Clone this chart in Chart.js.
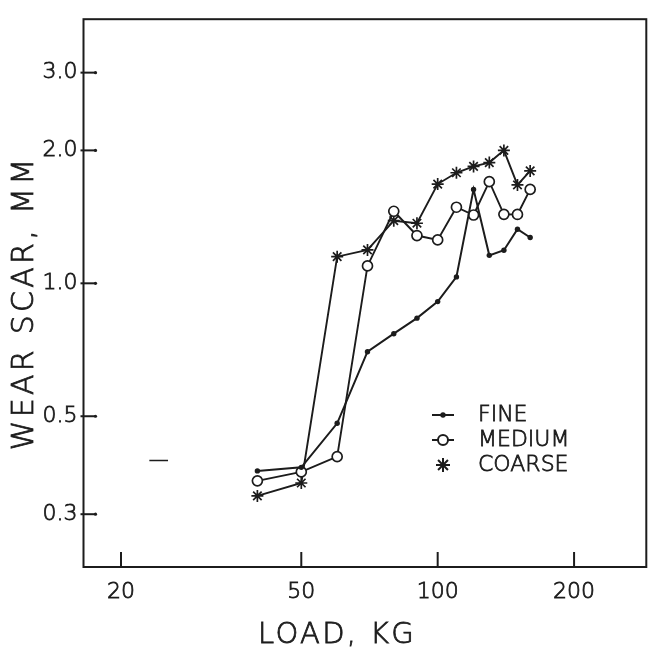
<!DOCTYPE html>
<html><head><meta charset="utf-8">
<script src="https://cdn.jsdelivr.net/npm/chart.js@4.4.1/dist/chart.umd.min.js"></script>
<style>html,body{margin:0;padding:0;background:#fff;} canvas{display:block;}</style>
</head><body>
<canvas id="c" width="654" height="649"></canvas>
<script>
// ---- data (load in kg, wear scar in mm) ----
const loads  = [40, 50, 60, 70, 80, 90, 100, 110, 120, 130, 140, 150, 160];
const fine   = [0.376, 0.383, 0.482, 0.700, 0.769, 0.834, 0.909, 1.034, 1.632, 1.157, 1.188, 1.326, 1.270];
const medium = [0.357, 0.374, 0.405, 1.095, 1.456, 1.283, 1.254, 1.487, 1.428, 1.699, 1.433, 1.432, 1.632];
const coarse = [0.330, 0.353, 1.149, 1.190, 1.386, 1.368, 1.678, 1.780, 1.840, 1.877, 2.000, 1.670, 1.797];
const strayLoads = [23.1, 25.4];
const strayScar  = [0.397, 0.397];
const seriesNames = ['FINE', 'MEDIUM', 'COARSE'];
const xTicks = [20, 50, 100, 200];
const xTickLabels = ['20', '50', '100', '200'];
const yTicks = [0.3, 0.5, 1.0, 2.0, 3.0];
const yTickLabels = ['0.3', '0.5', '1.0', '2.0', '3.0'];
const xTitle = 'LOAD, KG';
const yTitle = 'WEAR SCAR, MM';

const INK = '#1c1c1c';
const FONT = "'DejaVu Sans', sans-serif";
const WEIGHT = '200';
const TEXT_STROKE = 0.8;

const toPts = (xs, ys) => xs.map((v, i) => ({x: v, y: ys[i]}));

function inkText(ctx, s, x, y) {
  ctx.fillText(s, x, y);
  ctx.lineWidth = TEXT_STROKE;
  ctx.strokeText(s, x, y);
}

const framePlugin = {
  id: 'framePlugin',
  afterDraw(chart) {
    const {ctx, chartArea: a, scales: {x, y}} = chart;
    ctx.save();
    ctx.strokeStyle = INK; ctx.fillStyle = INK; ctx.lineWidth = 2;
    ctx.strokeRect(a.left, a.top, a.right - a.left, a.bottom - a.top);
    xTicks.forEach(v => {
      const px = x.getPixelForValue(v);
      ctx.beginPath(); ctx.moveTo(px, a.bottom); ctx.lineTo(px, a.bottom - 15); ctx.stroke();
    });
    yTicks.forEach(v => {
      const py = y.getPixelForValue(v);
      ctx.beginPath(); ctx.moveTo(a.left - 3, py); ctx.lineTo(a.left + 12, py); ctx.stroke();
      ctx.beginPath(); ctx.arc(a.left + 12, py, 1.6, 0, Math.PI * 2); ctx.fill();
    });

    // legend
    const lx = 443, rows = [415, 440, 465], tx = 478;
    const metas = [0, 1, 2].map(i => chart.data.datasets[i]);
    rows.forEach((ry, i) => {
      const ds = metas[i];
      ctx.strokeStyle = INK; ctx.lineWidth = 2;
      if (i < 2) {
        ctx.beginPath(); ctx.moveTo(lx - 11, ry); ctx.lineTo(lx + 11, ry); ctx.stroke();
      }
      ctx.fillStyle = ds.pointBackgroundColor;
      Chart.helpers.drawPoint(ctx, {pointStyle: ds.pointStyle, radius: i === 2 ? 7 : ds.pointRadius, rotation: 0, borderWidth: i === 0 ? 0 : 1.7}, lx, ry);
      ctx.fillStyle = INK;
      ctx.font = `${WEIGHT} 22px ${FONT}`; ctx.textAlign = 'left'; ctx.textBaseline = 'middle';
      inkText(ctx, seriesNames[i], tx, ry);
    });

    // axis titles
    ctx.fillStyle = INK; ctx.strokeStyle = INK;
    ctx.font = `${WEIGHT} 29px ${FONT}`; ctx.textAlign = 'center'; ctx.textBaseline = 'middle';
    try { ctx.letterSpacing = '2.3px'; } catch (e) {}
    inkText(ctx, xTitle, 337, 635);
    ctx.save();
    ctx.translate(25, 303); ctx.rotate(-Math.PI / 2);
    ctx.font = `${WEIGHT} 30px ${FONT}`;
    try { ctx.letterSpacing = '3.3px'; } catch (e) {}
    inkText(ctx, yTitle, 0, 0);
    ctx.restore();
    ctx.restore();
  }
};

new Chart(document.getElementById('c'), {
  type: 'line',
  data: {
    datasets: [
      {label: seriesNames[0], data: toPts(loads, fine), borderColor: INK, borderWidth: 2,
       pointStyle: 'circle', pointRadius: 2.7, pointBackgroundColor: INK, pointBorderColor: INK, pointBorderWidth: 0},
      {label: seriesNames[1], data: toPts(loads, medium), borderColor: INK, borderWidth: 1.9,
       pointStyle: 'circle', pointRadius: 5, pointBackgroundColor: '#fff', pointBorderColor: INK, pointBorderWidth: 1.7},
      {label: seriesNames[2], data: toPts(loads, coarse), borderColor: INK, borderWidth: 1.9,
       pointStyle: 'star', pointRadius: 6, pointBackgroundColor: INK, pointBorderColor: INK, pointBorderWidth: 1.7},
      {label: 'mark', data: toPts(strayLoads, strayScar), borderColor: INK, borderWidth: 1.6, pointRadius: 0}
    ]
  },
  options: {
    responsive: false, animation: false, events: [],
    layout: {padding: {top: 10, right: 2, left: 0, bottom: 0}},
    plugins: {legend: {display: false}, tooltip: {enabled: false}},
    elements: {line: {tension: 0}},
    scales: {
      x: {
        type: 'logarithmic', min: 16.53, max: 288.7,
        afterBuildTicks: s => { s.ticks = xTicks.map(v => ({value: v})); },
        afterFit: s => { s.height = 82; },
        grid: {display: false, drawTicks: false}, border: {display: false},
        ticks: {autoSkip: false, maxRotation: 0, padding: 12, color: INK,
                textStrokeColor: INK, textStrokeWidth: TEXT_STROKE,
                font: {family: FONT, size: 22, weight: WEIGHT}, callback: (v, i) => xTickLabels[i]}
      },
      y: {
        type: 'logarithmic', min: 0.2278, max: 3.964,
        afterBuildTicks: s => { s.ticks = yTicks.map(v => ({value: v})); },
        afterFit: s => { s.width = 83.5; },
        grid: {display: false, drawTicks: false}, border: {display: false},
        ticks: {autoSkip: false, padding: 6, color: INK,
                textStrokeColor: INK, textStrokeWidth: TEXT_STROKE,
                font: {family: FONT, size: 22, weight: WEIGHT}, callback: (v, i) => yTickLabels[i]}
      }
    }
  },
  plugins: [framePlugin]
});
</script>
</body></html>
